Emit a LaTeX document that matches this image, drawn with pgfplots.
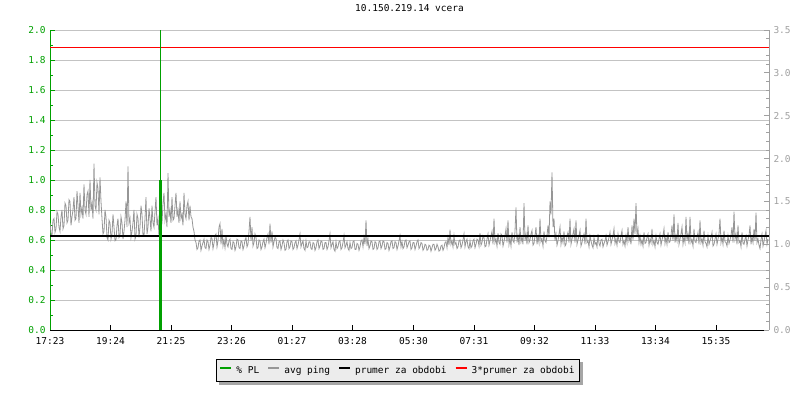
\documentclass[border=0pt]{standalone}
\usepackage{fontspec}
\setmainfont{DejaVu Sans Mono}
\usepackage{pgfplots}
\pgfplotsset{compat=1.18}
\usetikzlibrary{backgrounds}
\definecolor{plgreen}{RGB}{0,160,0}
\definecolor{pinggray}{RGB}{150,150,150}
\definecolor{gridgray}{RGB}{195,195,195}
\definecolor{axgray}{RGB}{160,160,160}
\definecolor{legbg}{RGB}{236,236,236}
\pgfplotsset{
  common/.style={
    scale only axis, width=719bp, height=300bp,
    xmin=0, xmax=1438,
    /pgf/number format/assume math mode=true,
    tick label style={font=\fontsize{9.5bp}{11bp}\selectfont},
    tick align=inside,
    major tick length=5bp, minor tick length=3bp,
  }
}
\begin{document}
\begin{tikzpicture}
\begin{axis}[common, name=A, ymin=0, ymax=2,
  axis x line*=bottom, axis y line*=left,
  x axis line style={-, black, line width=1bp},
  y axis line style={-, plgreen, line width=1bp},
  xtick={0,121,242,363,484,605,727,848,969,1090,1211,1332},
  xticklabels={17:23,19:24,21:25,23:26,01:27,03:28,05:30,07:31,09:32,11:33,13:34,15:35},
  xtick style={black, line width=0.8bp},
  ytick={0,0.2,0.4,0.6,0.8,1.0,1.2,1.4,1.6,1.8,2.0},
  minor y tick num=1,
  ytick style={plgreen, line width=0.8bp},
  yticklabel style={plgreen, xshift=-1bp, /pgf/number format/.cd, fixed, fixed zerofill, precision=1},
  xticklabel style={black, yshift=-4bp},
  ymajorgrids, major grid style={gridgray, line width=0.8bp},
  title={10.150.219.14 vcera},
  title style={font=\fontsize{9.5bp}{11bp}\selectfont, at={(0.5,1)}, anchor=center, yshift=16bp},
]
\end{axis}
\begin{axis}[common, ymin=0, ymax=3.5,
  axis y line*=right, axis x line=none,
  y axis line style={-, axgray, line width=1bp},
  ytick={0,0.5,1.0,1.5,2.0,2.5,3.0,3.5},
  minor y tick num=4,
  ytick style={axgray, line width=0.8bp},
  yticklabel style={axgray, xshift=1bp, /pgf/number format/.cd, fixed, fixed zerofill, precision=1},
]
\addplot[pinggray, line width=0.8bp] coordinates {
(0,1.25)(2,1.12)(4,1.10)(6,1.28)(8,1.30)(10,1.14)(12,1.18)(14,1.38)(16,1.35)(18,1.20)(20,1.15)(22,1.32)(24,1.40)(26,1.18)(28,1.22)(30,1.48)(32,1.45)(34,1.25)(36,1.28)(38,1.52)(40,1.50)(42,1.22)(44,1.32)(46,1.40)(48,1.55)(50,1.28)(52,1.30)(54,1.62)(56,1.45)(58,1.25)(60,1.60)(62,1.35)(64,1.42)(66,1.30)(68,1.70)(70,1.40)(72,1.35)(74,1.58)(76,1.62)(78,1.32)(80,1.75)(82,1.40)(84,1.48)(86,1.30)(88,1.94)(90,1.45)(92,1.40)(94,1.72)(96,1.65)(98,1.35)(100,1.78)(102,1.50)(104,1.30)(106,1.12)(108,1.15)(110,1.40)(112,1.32)(114,1.08)(116,1.05)(118,1.28)(120,1.25)(122,1.06)(124,1.12)(126,1.35)(128,1.20)(130,1.04)(132,1.05)(134,1.22)(136,1.30)(138,1.08)(140,1.10)(142,1.32)(144,1.25)(146,1.06)(148,1.15)(150,1.28)(152,1.50)(154,1.20)(156,1.91)(158,1.25)(160,1.30)(162,1.08)(164,1.15)(166,1.25)(168,1.40)(170,1.06)(172,1.10)(174,1.35)(176,1.30)(178,1.08)(180,1.20)(182,1.45)(184,1.35)(186,1.10)(188,1.10)(190,1.30)(192,1.55)(194,1.12)(196,1.20)(198,1.42)(200,1.30)(202,1.15)(204,1.45)(206,1.25)(208,1.20)(210,1.38)(212,1.55)(214,1.22)(216,1.30)(218,1.10)(220,1.40)(222,1.20)(224,1.25)(226,1.48)(228,1.60)(230,1.28)(232,1.35)(234,1.20)(236,1.83)(238,1.32)(240,1.40)(242,1.25)(244,1.55)(246,1.28)(248,1.30)(250,1.45)(252,1.60)(254,1.32)(256,1.40)(258,1.25)(260,1.50)(262,1.30)(264,1.35)(266,1.22)(268,1.60)(270,1.35)(272,1.30)(274,1.45)(276,1.50)(278,1.28)(280,1.45)(282,1.32)(284,1.30)(286,1.20)(288,1.15)(290,1.05)
(292,1.02)(294,0.94)(296,0.96)(298,1.04)(300,1.05)(302,0.93)(304,0.98)(306,1.02)(308,1.06)(310,0.96)(312,0.95)(314,1.05)(316,1.03)(318,0.94)(320,0.99)(322,1.08)(324,1.07)(326,0.95)(328,1.01)(330,1.10)(332,1.12)(334,0.97)(336,1.04)(338,1.20)(340,1.24)(342,1.00)(344,1.18)(346,0.98)(348,1.05)(350,0.96)(352,1.10)(354,1.00)(356,0.97)(358,1.04)(360,1.06)(362,0.95)(364,0.94)(366,1.03)(368,1.02)(370,0.93)(372,0.97)(374,1.06)(376,1.05)(378,0.96)(380,0.95)(382,1.04)(384,1.03)(386,0.94)(388,0.98)(390,1.05)(392,1.08)(394,0.97)(396,1.00)(398,1.15)(400,1.32)(402,1.04)(404,1.20)(406,0.98)(408,1.02)(410,1.12)(412,1.08)(414,0.95)(416,0.96)(418,1.05)(420,1.04)(422,0.94)(424,0.97)(426,1.03)(428,1.06)(430,0.96)(432,1.01)(434,1.08)(436,1.12)(438,1.00)(440,1.24)(442,1.02)(444,1.15)(446,0.97)(448,1.03)(450,1.08)(452,1.07)(454,0.96)(456,0.95)(458,1.03)(460,1.04)(462,0.94)(464,0.98)(466,1.05)(468,1.02)(470,0.93)(472,0.94)(474,1.03)(476,1.05)(478,0.95)(480,0.97)(482,1.04)(484,1.03)(486,0.94)(488,0.96)(490,1.02)(492,1.04)(494,0.95)(496,0.99)(498,1.05)(500,1.12)(502,0.97)(504,1.01)(506,1.04)(508,0.95)(510,0.93)(512,1.04)(514,0.96)(516,0.97)(518,1.03)(520,1.03)(522,0.95)(524,0.94)(526,1.02)(528,1.01)(530,0.93)(532,0.96)(534,1.03)(536,1.05)(538,0.95)(540,0.98)(542,1.04)(544,1.03)(546,0.94)(548,0.95)(550,1.02)(552,1.02)(554,0.94)(556,0.97)(558,1.04)(560,1.12)(562,0.96)(564,1.00)(566,1.03)(568,0.94)(570,0.92)(572,1.03)(574,0.95)(576,0.97)(578,1.03)(580,1.04)(582,0.94)(584,0.96)(586,1.02)(588,1.10)(590,0.96)(592,0.99)(594,1.03)(596,0.95)(598,0.93)(600,1.02)(602,0.95)(604,0.96)(606,1.03)(608,1.04)(610,0.94)(612,0.94)(614,1.01)(616,1.00)(618,0.93)(620,0.97)(622,1.04)(624,1.05)(626,0.97)(628,1.08)(630,1.00)(632,1.28)(634,0.98)(636,1.06)(638,0.95)(640,0.98)(642,1.04)(644,1.03)(646,0.94)(648,0.95)(650,1.03)(652,1.02)(654,0.94)(656,0.96)(658,1.03)(660,1.04)(662,0.95)(664,0.98)(666,1.04)(668,1.03)(670,0.94)(672,0.95)(674,1.02)(676,1.01)(678,0.93)(680,0.97)(682,1.03)(684,1.04)(686,0.95)(688,0.96)(690,1.03)(692,1.02)(694,0.94)(696,0.98)(698,1.04)(700,1.10)(702,0.97)(704,1.03)(706,0.95)(708,0.97)(710,1.04)(712,1.05)(714,0.96)(716,0.99)(718,1.03)(720,1.04)(722,0.94)(724,0.96)(726,1.02)(728,1.02)(730,0.94)(732,0.98)(734,1.03)(736,1.05)(738,0.95)(740,0.97)(742,1.02)(744,1.01)(746,0.93)(748,0.95)(750,1.00)(752,0.99)(754,0.93)(756,0.94)(758,0.99)(760,0.98)(762,0.92)(764,0.96)(766,1.00)(768,1.00)(770,0.93)(772,0.95)(774,1.00)(776,0.97)(778,0.92)(780,0.93)(782,0.98)(784,0.99)(786,0.93)(788,0.96)(790,1.02)(792,1.03)(794,0.96)(796,1.08)(798,0.99)(800,1.17)(802,1.00)(804,1.04)(806,0.97)(808,1.10)(810,1.00)(812,1.02)(814,0.95)(816,0.97)(818,1.04)(820,1.05)(822,0.96)(824,0.99)(826,1.05)(828,1.12)(830,0.97)(832,1.03)(834,1.06)(836,0.97)(838,0.95)(840,1.04)(842,0.96)(844,0.98)(846,1.04)(848,1.06)(850,0.96)(852,1.00)(854,1.06)(856,1.05)(858,0.98)(860,1.13)(862,0.99)
(864,1.02)(866,1.10)(868,1.08)(870,0.97)(872,0.98)(874,1.06)(876,1.12)(878,0.99)(880,1.04)(882,1.10)(884,1.15)(886,1.00)(888,1.30)(890,1.02)(892,1.06)(894,0.98)(896,1.13)(898,1.02)(900,1.00)(902,1.12)(904,1.10)(906,0.98)(908,1.03)(910,1.10)(912,1.18)(914,1.02)(916,1.28)(918,1.00)(920,1.07)(922,0.98)(924,1.14)(926,1.04)(928,1.02)(930,1.15)(932,1.43)(934,1.02)(936,1.10)(938,0.99)(940,1.20)(942,1.03)(944,1.08)(946,1.00)(948,1.48)(950,1.04)(952,1.12)(954,1.00)(956,1.22)(958,1.02)(960,1.05)(962,1.12)(964,1.16)(966,0.99)(968,1.01)(970,1.10)(972,1.20)(974,1.00)(976,1.09)(978,1.02)(980,1.30)(982,1.03)(984,1.06)(986,0.98)(988,1.15)(990,1.04)(992,1.02)(994,1.10)(996,1.22)(998,1.08)(1000,1.50)(1002,1.35)(1004,1.84)(1006,1.20)(1008,1.30)(1010,1.04)(1012,1.12)(1014,0.99)(1016,1.04)(1018,1.12)(1020,1.20)(1022,1.00)(1024,1.08)(1026,1.02)(1028,1.15)(1030,0.98)(1032,1.00)(1034,1.10)(1036,1.14)(1038,1.02)(1040,1.30)(1042,1.00)(1044,1.06)(1046,1.12)(1048,1.18)(1050,1.02)(1052,1.28)(1054,1.00)(1056,1.05)(1058,1.10)(1060,1.16)(1062,0.98)(1064,1.02)(1066,1.08)(1068,1.12)(1070,1.00)(1072,1.30)(1074,1.02)(1076,1.04)(1078,0.97)(1080,1.10)(1082,1.04)(1084,0.99)(1086,0.96)(1088,1.08)(1090,1.00)(1092,1.02)(1094,0.97)(1096,1.12)(1098,1.01)(1100,0.98)(1102,1.05)(1104,1.06)(1106,0.97)(1108,1.01)(1110,1.04)(1112,1.10)(1114,0.99)(1116,1.03)(1118,1.08)(1120,1.14)(1122,1.00)(1124,1.05)(1126,1.10)(1128,1.18)(1130,1.01)(1132,1.06)(1134,0.99)(1136,1.12)(1138,1.03)(1140,1.02)(1142,1.10)(1144,1.16)(1146,1.00)(1148,1.04)(1150,0.98)(1152,1.10)(1154,1.02)(1156,1.20)(1158,1.04)(1160,1.08)(1162,1.00)(1164,1.22)(1166,1.05)(1168,1.30)(1170,1.12)(1172,1.48)(1174,1.10)(1176,1.18)(1178,1.02)(1180,1.10)(1182,1.00)(1184,1.05)(1186,0.98)(1188,1.14)(1190,1.01)(1192,1.02)(1194,1.08)(1196,1.12)(1198,0.99)(1200,1.06)(1202,1.02)(1204,1.18)(1206,1.00)(1208,1.04)(1210,0.97)(1212,1.10)(1214,1.02)(1216,1.00)(1218,1.06)(1220,1.12)(1222,0.99)(1224,1.05)(1226,1.10)(1228,1.18)(1230,1.01)(1232,1.08)(1234,1.00)(1236,1.14)(1238,1.02)(1240,1.03)(1242,1.10)(1244,1.22)(1246,1.04)(1248,1.35)(1250,1.02)(1252,1.10)(1254,1.04)(1256,1.25)(1258,1.00)(1260,1.06)(1262,1.12)(1264,1.20)(1266,1.00)(1268,1.08)(1270,1.02)(1272,1.32)(1274,1.04)(1276,1.12)(1278,1.00)(1280,1.32)(1282,1.02)(1284,1.05)(1286,0.98)(1288,1.18)(1290,1.03)(1292,1.02)(1294,1.08)(1296,1.14)(1298,1.00)(1300,1.28)(1302,1.02)(1304,1.06)(1306,0.99)(1308,1.16)(1310,1.03)(1312,1.01)(1314,0.97)(1316,1.10)(1318,1.00)(1320,1.04)(1322,1.08)(1324,1.14)(1326,0.98)(1328,1.00)(1330,1.06)(1332,1.12)(1334,1.00)(1336,1.06)(1338,1.12)(1340,1.30)(1342,1.02)(1344,1.08)(1346,1.00)(1348,1.16)(1350,1.03)(1352,1.02)(1354,0.98)(1356,1.10)(1358,1.01)(1360,1.05)(1362,1.10)(1364,1.20)(1366,1.02)(1368,1.38)(1370,1.06)(1372,1.12)(1374,1.00)(1376,1.22)(1378,1.02)(1380,1.04)(1382,0.97)(1384,1.14)(1386,1.01)(1388,1.00)(1390,1.06)(1392,1.10)(1394,0.98)(1396,1.05)(1398,1.10)(1400,1.22)(1402,1.00)(1404,1.08)(1406,1.02)(1408,1.18)(1410,1.04)(1412,1.37)(1414,1.02)(1416,1.06)(1418,0.99)(1420,0.95)(1422,1.05)(1424,1.12)(1426,0.98)(1428,1.03)(1430,1.10)(1432,1.16)(1434,1.00)(1436,1.06)
};
\addplot[black, line width=2.2bp] coordinates {(0,1.1)(1438,1.1)};
\addplot[red, line width=1bp] coordinates {(0,3.3)(1438,3.3)};
\end{axis}
\begin{axis}[common, ymin=0, ymax=2, hide axis,
  legend columns=4,
  legend image code/.code={\draw[#1, line width=2bp] (0bp,3bp) -- (11bp,3bp);},
  legend style={name=leg, at={(0.484,0)}, anchor=center, yshift=-40.5bp,
    fill=legbg, draw=black, line width=0.8bp,
    font=\fontsize{9.5bp}{11bp}\selectfont,
    inner xsep=3bp, inner ysep=4.5bp,
    /tikz/every odd column/.append style={column sep=2bp},
    /tikz/every even column/.append style={column sep=6bp}},
]
\addplot[ycomb, plgreen, line width=3bp, forget plot] coordinates {(220,1.0)};
\addplot[ycomb, plgreen, line width=1.3bp, forget plot] coordinates {(221,2.0)};
\addlegendimage{plgreen}\addlegendentry{\% PL}
\addlegendimage{pinggray}\addlegendentry{avg ping}
\addlegendimage{black}\addlegendentry{prumer za obdobi}
\addlegendimage{red}\addlegendentry{3*prumer za obdobi}
\end{axis}
\begin{scope}[on background layer]
\fill[gray!70] ([xshift=3bp,yshift=-3bp]leg.south west) rectangle ([xshift=3bp,yshift=-3bp]leg.north east);
\end{scope}
\pgfresetboundingbox
\path[use as bounding box] (A.south west) ++(-50bp,-70bp) rectangle ++(800bp,400bp);
\end{tikzpicture}
\end{document}
